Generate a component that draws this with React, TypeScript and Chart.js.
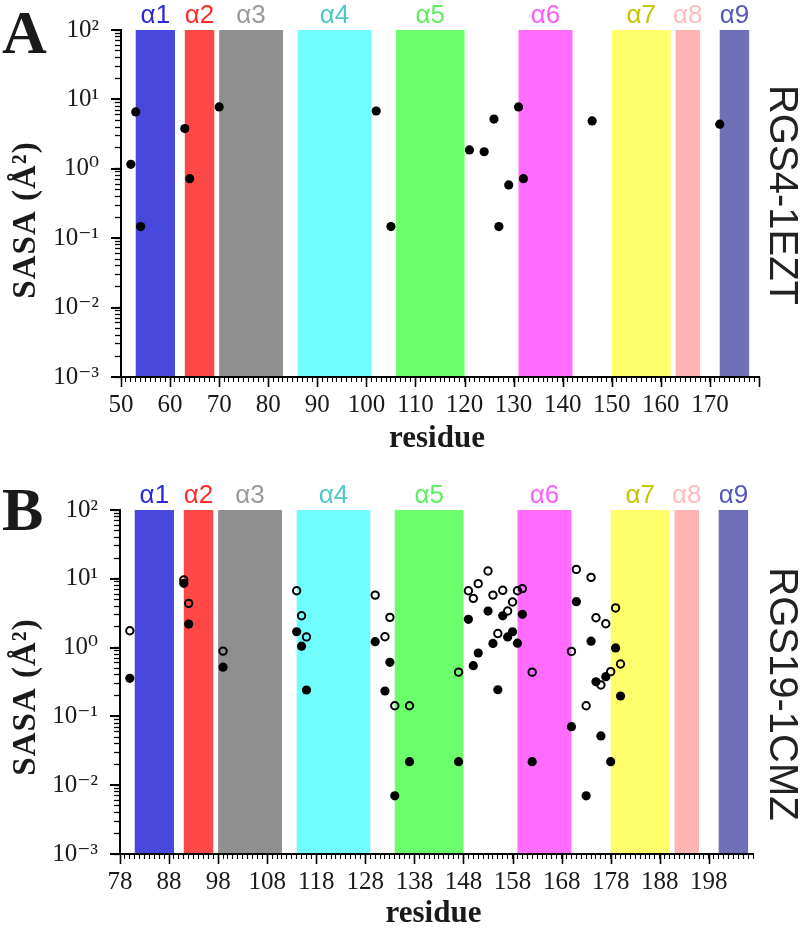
import React, { useEffect, useRef } from 'react';
import { Chart, registerables } from 'chart.js';

Chart.register(...registerables);

// ---------- data ----------
const helixNames = ['α1', 'α2', 'α3', 'α4', 'α5', 'α6', 'α7', 'α8', 'α9'];
const helixBandColors = ['#4848dc', '#ff4848', '#8f8f8f', '#70ffff', '#6cff6c', '#ff6cff', '#ffff6c', '#ffb4b4', '#7070b8'];
const helixLabelColors = ['#2a2ad0', '#ff2a2a', '#9a9a9a', '#4cc8c8', '#5cf05c', '#ff5cff', '#c4c400', '#ffbcbc', '#5656c0'];

const rgs4HelixStart = [53, 63, 70, 86, 106, 131, 150, 163, 172];
const rgs4HelixEnd = [61, 69, 83, 101, 120, 142, 162, 168, 178];
const rgs19HelixStart = [81, 91, 98, 114, 134, 159, 178, 191, 200];
const rgs19HelixEnd = [89, 97, 111, 129, 148, 170, 190, 196, 206];

const rgs4Residues = [52, 53, 54, 63, 64, 70, 102, 105, 121, 124, 126, 127, 129, 131, 132, 146, 172];
const rgs4Sasa = [1.16, 6.6, 0.147, 3.8, 0.72, 7.8, 6.8, 0.147, 1.87, 1.76, 5.2, 0.147, 0.585, 7.8, 0.72, 4.9, 4.4];

const rgs19FilledResidues = [80, 91, 92, 99, 114, 115, 116, 130, 132, 133, 134, 137, 147, 149, 150, 151, 153, 154, 155, 156, 157, 158, 159, 160, 162, 170, 171, 173, 174, 175, 176, 177, 178, 179, 180];
const rgs19FilledSasa = [0.358, 8.6, 2.2, 0.52, 1.7, 1.05, 0.242, 1.22, 0.234, 0.61, 0.007, 0.022, 0.022, 2.58, 0.546, 0.835, 3.4, 1.15, 0.244, 2.9, 1.43, 1.7, 1.16, 3.05, 0.022, 0.071, 4.65, 0.007, 1.24, 0.319, 0.052, 0.378, 0.022, 0.99, 0.198];

const rgs19OpenResidues = [80, 91, 92, 99, 114, 115, 116, 130, 132, 133, 134, 137, 147, 149, 150, 151, 153, 154, 155, 156, 157, 158, 159, 160, 162, 170, 171, 173, 174, 175, 176, 177, 178, 179, 180];
const rgs19OpenSasa = [1.76, 9.6, 4.4, 0.89, 6.7, 2.9, 1.43, 5.8, 1.44, 2.75, 0.143, 0.143, 0.44, 6.7, 5.2, 8.5, 13, 5.8, 1.6, 6.8, 3.4, 4.6, 6.7, 7.2, 0.44, 0.88, 13.7, 0.143, 10.5, 2.72, 0.286, 2.22, 0.447, 3.77, 0.578];

const yExponents = [-3, -2, -1, 0, 1, 2];

// ---------- helpers ----------
const SUP: Record<string, string> = { '-': '⁻', '0': '⁰', '1': '¹', '2': '²', '3': '³', '4': '⁴' };
const powLabel = (e: number) => '10' + String(e).split('').map((c) => SUP[c] || c).join('');
const SERIF = "'Liberation Serif', 'DejaVu Serif', serif";
const SANS = "'Liberation Sans', Arial, sans-serif";

type Series = { residues: number[]; sasa: number[]; open: boolean };
type PanelProps = {
  letter: string;
  protein: string;
  xMin: number;
  xMax: number;
  xLabelFirst: number;
  xLabelLast: number;
  helixStart: number[];
  helixEnd: number[];
  series: Series[];
  height: number;
  top: number;
  bottom: number;
  left: number;
  right: number;
  letterBaseline: number;
  yTitleCenter: number;
  proteinCenter: number;
  xTitleBaseline: number;
};

function Panel(p: PanelProps) {
  const ref = useRef<HTMLCanvasElement | null>(null);
  useEffect(() => {
    const canvas = ref.current;
    if (!canvas) return;
    const isPow = (v: number) => Math.abs(Math.log10(v) - Math.round(Math.log10(v))) < 1e-9;

    const decor = {
      id: 'decor',
      beforeDraw(chart: any) {
        const ctx = chart.ctx;
        const a = chart.chartArea;
        const xs = chart.scales.x;
        ctx.save();
        p.helixStart.forEach((s, i) => {
          const x0 = xs.getPixelForValue(s);
          const x1 = xs.getPixelForValue(p.helixEnd[i]);
          ctx.fillStyle = helixBandColors[i];
          ctx.fillRect(x0, a.top, x1 - x0, a.bottom - a.top);
          ctx.fillStyle = helixLabelColors[i];
          ctx.font = `26px ${SANS}`;
          ctx.textAlign = 'center';
          ctx.textBaseline = 'alphabetic';
          ctx.fillText(helixNames[i], (x0 + x1) / 2, a.top - 7);
        });
        ctx.restore();
      },
      afterDraw(chart: any) {
        const ctx = chart.ctx;
        const a = chart.chartArea;
        const xs = chart.scales.x;
        const ys = chart.scales.y;
        ctx.save();
        ctx.strokeStyle = '#000';
        // major x ticks
        ctx.lineWidth = 1.6;
        for (let v = p.xLabelFirst; v <= p.xMax; v += 10) {
          const x = Math.round(xs.getPixelForValue(v)) + 0.5;
          ctx.beginPath();
          ctx.moveTo(x, a.bottom);
          ctx.lineTo(x, a.bottom + 10);
          ctx.stroke();
        }
        // major y ticks
        ctx.lineWidth = 2;
        yExponents.forEach((e) => {
          const y = Math.round(ys.getPixelForValue(Math.pow(10, e)));
          ctx.beginPath();
          ctx.moveTo(a.left - 10, y);
          ctx.lineTo(a.left, y);
          ctx.stroke();
        });
        // panel letter
        ctx.fillStyle = '#1a1a1a';
        ctx.font = `bold 62px ${SERIF}`;
        ctx.textAlign = 'left';
        ctx.textBaseline = 'alphabetic';
        ctx.fillText(p.letter, 2, p.letterBaseline);
        // y title
        ctx.save();
        ctx.translate(35, p.yTitleCenter);
        ctx.rotate(-Math.PI / 2);
        ctx.font = `bold 33px ${SERIF}`;
        (ctx as any).letterSpacing = '1px';
        ctx.textAlign = 'center';
        ctx.fillText('SASA (Å²)', 0, 0);
        ctx.restore();
        // x title
        ctx.font = `bold 31px ${SERIF}`;
        ctx.textAlign = 'center';
        ctx.fillText('residue', (a.left + a.right) / 2 - 3, p.xTitleBaseline);
        // protein label
        ctx.save();
        ctx.translate(770, p.proteinCenter);
        ctx.rotate(Math.PI / 2);
        ctx.font = `40px ${SANS}`;
        ctx.fillStyle = '#222';
        ctx.textAlign = 'center';
        ctx.textBaseline = 'alphabetic';
        ctx.fillText(p.protein, 0, 0);
        ctx.restore();
        ctx.restore();
      },
    };

    const chart = new Chart(canvas, {
      type: 'scatter',
      data: {
        datasets: p.series.map((s) => ({
          data: s.residues.map((r, i) => ({ x: r, y: s.sasa[i] })),
          pointRadius: s.open ? 3.7 : 4.6,
          pointHoverRadius: s.open ? 3.7 : 4.6,
          pointBorderWidth: s.open ? 2 : 0,
          pointBackgroundColor: s.open ? 'rgba(0,0,0,0)' : '#000',
          pointBorderColor: '#000',
          showLine: false,
        })),
      },
      options: {
        responsive: false,
        animation: false,
        events: [],
        layout: { padding: { top: p.top, right: 800 - p.right, left: 0, bottom: 0 } },
        plugins: { legend: { display: false }, tooltip: { enabled: false }, title: { display: false } },
        scales: {
          x: {
            type: 'linear',
            min: p.xMin,
            max: p.xMax,
            afterBuildTicks: (s: any) => {
              const t = [];
              for (let v = p.xMin; v <= p.xMax; v++) t.push({ value: v });
              s.ticks = t;
            },
            afterFit: (s: any) => {
              s.height = p.height - p.bottom;
              s.paddingLeft = 0;
              s.paddingRight = 0;
            },
            ticks: {
              autoSkip: false,
              maxRotation: 0,
              minRotation: 0,
              padding: 8,
              color: '#1a1a1a',
              font: { family: SERIF, size: 25 },
              callback: (v: any) => {
                const n = Number(v);
                return (n - p.xLabelFirst) % 10 === 0 && n <= p.xLabelLast ? String(n) : '';
              },
            },
            grid: { drawOnChartArea: false, drawTicks: true, tickLength: 5, tickColor: '#000', tickWidth: 1.1 },
            border: { display: true, color: '#000', width: 2 },
          },
          y: {
            type: 'logarithmic',
            min: 1e-3,
            max: 100,
            afterBuildTicks: (s: any) => {
              const t: any[] = [];
              yExponents.forEach((e) => {
                if (e === yExponents[yExponents.length - 1]) {
                  t.push({ value: Math.pow(10, e) });
                } else {
                  for (let m = 1; m <= 9; m++) t.push({ value: m * Math.pow(10, e) });
                }
              });
              s.ticks = t;
            },
            afterFit: (s: any) => {
              s.width = p.left;
              s.paddingTop = 0;
              s.paddingBottom = 0;
            },
            ticks: {
              autoSkip: false,
              padding: 16,
              color: '#1a1a1a',
              font: { family: SERIF, size: 25 },
              callback: (v: any) => {
                const n = Number(v);
                return isPow(n) ? powLabel(Math.round(Math.log10(n))) : '';
              },
            },
            grid: { drawOnChartArea: false, drawTicks: true, tickLength: 6, tickColor: '#000', tickWidth: 1.3 },
            border: { display: true, color: '#000', width: 2 },
          },
        },
      } as any,
      plugins: [decor],
    });
    return () => chart.destroy();
  }, []);
  return <canvas ref={ref} width={800} height={p.height} style={{ display: 'block', width: 800, height: p.height }} />;
}

export default function App() {
  useEffect(() => {
    document.body.style.margin = '0';
  }, []);
  return (
    <div style={{ width: 800, background: '#fff' }}>
      <Panel
        letter="A"
        protein="RGS4-1EZT"
        xMin={50}
        xMax={180}
        xLabelFirst={50}
        xLabelLast={170}
        helixStart={rgs4HelixStart}
        helixEnd={rgs4HelixEnd}
        series={[{ residues: rgs4Residues, sasa: rgs4Sasa, open: false }]}
        height={465}
        top={30}
        bottom={377}
        left={121}
        right={759}
        letterBaseline={53}
        yTitleCenter={220}
        proteinCenter={195}
        xTitleBaseline={447}
      />
      <Panel
        letter="B"
        protein="RGS19-1CMZ"
        xMin={78}
        xMax={207}
        xLabelFirst={78}
        xLabelLast={198}
        helixStart={rgs19HelixStart}
        helixEnd={rgs19HelixEnd}
        series={[
          { residues: rgs19OpenResidues, sasa: rgs19OpenSasa, open: true },
          { residues: rgs19FilledResidues, sasa: rgs19FilledSasa, open: false },
        ]}
        height={466}
        top={45}
        bottom={389}
        left={120}
        right={753}
        letterBaseline={65}
        yTitleCenter={232}
        proteinCenter={229}
        xTitleBaseline={457}
      />
    </div>
  );
}
